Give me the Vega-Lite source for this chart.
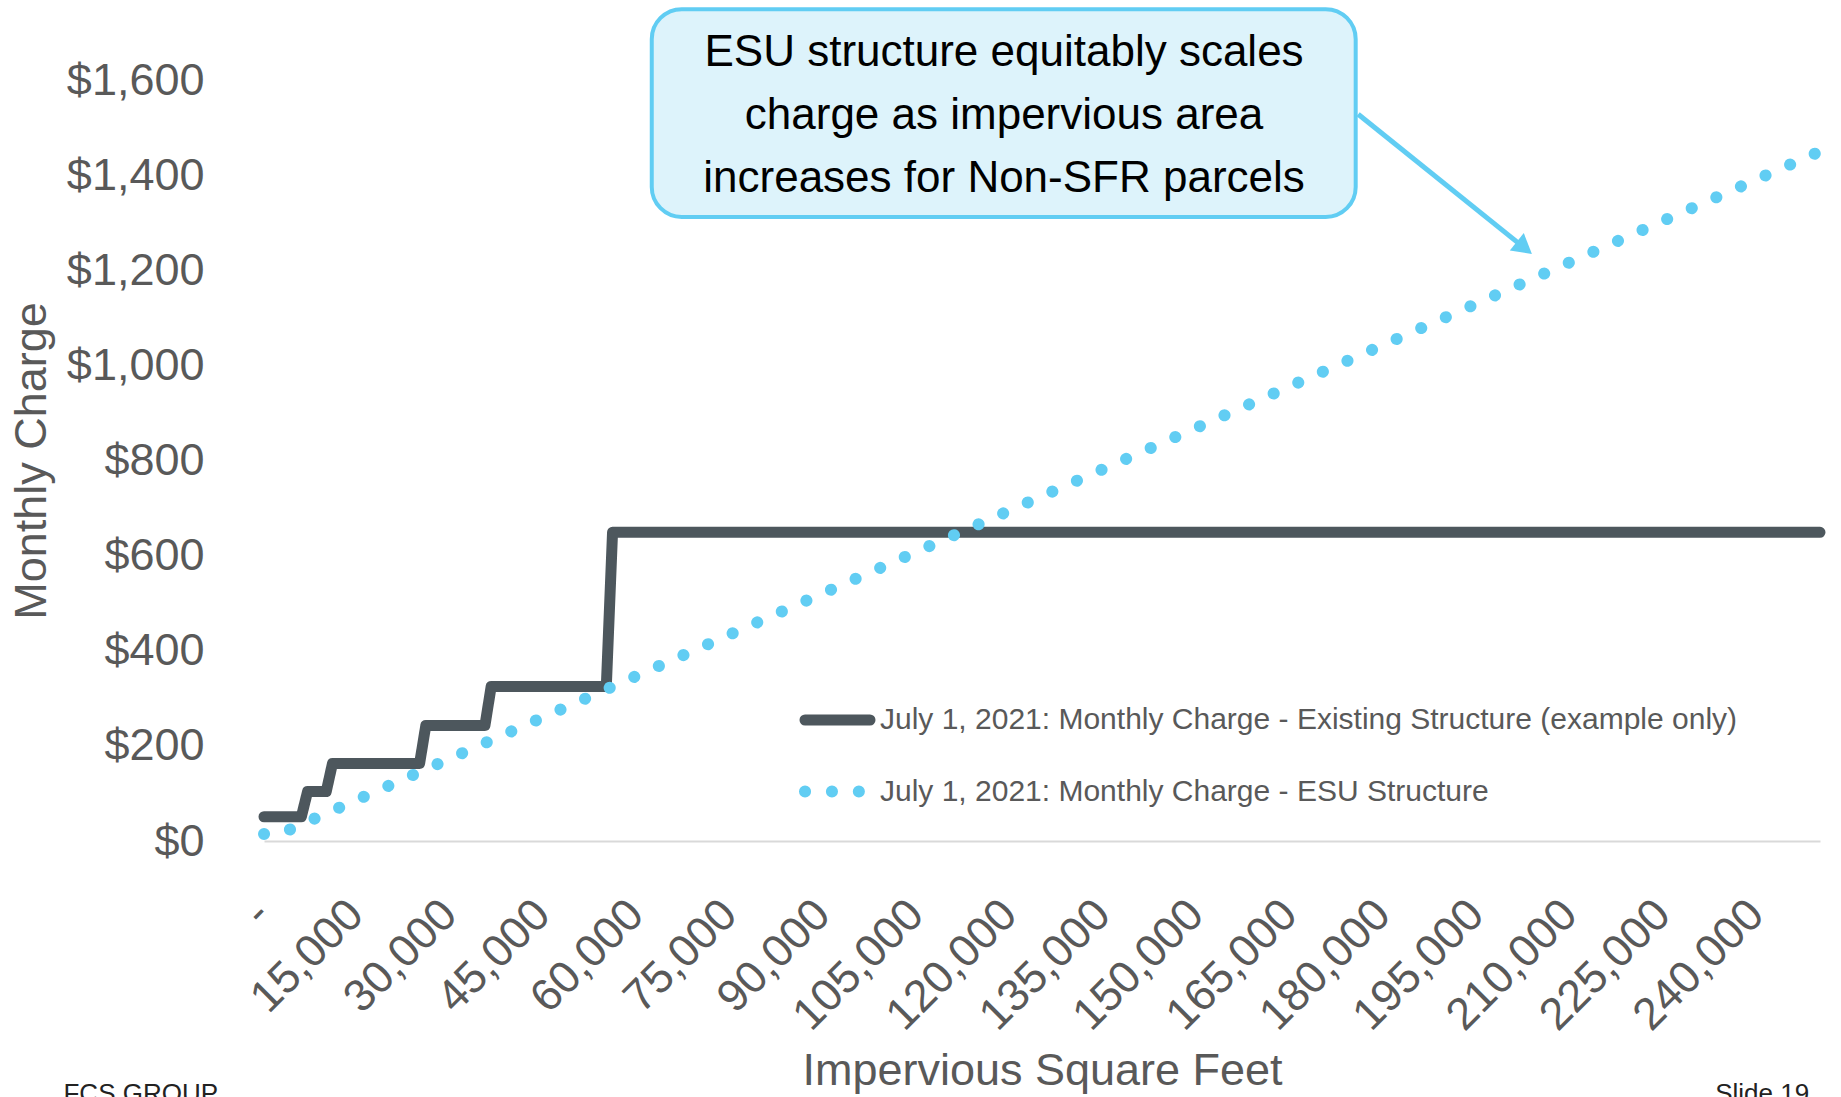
{
  "$schema": "https://vega.github.io/schema/vega-lite/v6.json",
  "width": 1556,
  "height": 761,
  "autosize": "none",
  "padding": {"left": 264, "top": 80, "right": 21, "bottom": 256},
  "background": "white",
  "config": {
    "font": "Liberation Sans, Arial, sans-serif",
    "view": {"stroke": null},
    "axis": {"grid": false, "labelColor": "#595959", "titleColor": "#595959", "titleFontWeight": "normal"},
    "legend": {"labelColor": "#595959"}
  },
  "layer": [
    {
      "data": {"values": [{"x1": 62300, "x2": 175400, "y1": 1312, "y2": 1749}]},
      "mark": {"type": "rect", "cornerRadius": 30, "fill": "#DDF3FB", "stroke": "#61CDF3", "strokeWidth": 4},
      "encoding": {
        "x": {"field": "x1", "type": "quantitative"},
        "x2": {"field": "x2"},
        "y": {"field": "y1", "type": "quantitative"},
        "y2": {"field": "y2"}
      }
    },
    {
      "data": {"values": [{"x": 118900, "y": 1657, "label": "ESU structure equitably scales\ncharge as impervious area\nincreases for Non-SFR parcels"}]},
      "mark": {"type": "text", "fontSize": 44, "lineHeight": 63, "lineBreak": "\n", "align": "center", "baseline": "middle", "color": "#000000"},
      "encoding": {
        "x": {"field": "x", "type": "quantitative"},
        "y": {"field": "y", "type": "quantitative"},
        "text": {"field": "label"}
      }
    },
    {
      "data": {"values": [{"x1": 175800, "y1": 1528, "x2": 202500, "y2": 1247}]},
      "mark": {"type": "rule", "color": "#61CDF3", "strokeWidth": 5},
      "encoding": {
        "x": {"field": "x1", "type": "quantitative"},
        "y": {"field": "y1", "type": "quantitative"},
        "x2": {"field": "x2"},
        "y2": {"field": "y2"}
      }
    },
    {
      "data": {"values": [{"x": 202500, "y": 1247}]},
      "mark": {"type": "point", "shape": "triangle-right", "angle": 38.7, "size": 500, "filled": true, "color": "#61CDF3", "opacity": 1},
      "encoding": {
        "x": {"field": "x", "type": "quantitative"},
        "y": {"field": "y", "type": "quantitative"}
      }
    },
    {
      "data": {"values": [
        {"sqft": 0, "charge": 51, "series": "July 1, 2021: Monthly Charge - Existing Structure (example only)"},
        {"sqft": 6000, "charge": 51, "series": "July 1, 2021: Monthly Charge - Existing Structure (example only)"},
        {"sqft": 7000, "charge": 104, "series": "July 1, 2021: Monthly Charge - Existing Structure (example only)"},
        {"sqft": 10000, "charge": 104, "series": "July 1, 2021: Monthly Charge - Existing Structure (example only)"},
        {"sqft": 11000, "charge": 163, "series": "July 1, 2021: Monthly Charge - Existing Structure (example only)"},
        {"sqft": 25000, "charge": 163, "series": "July 1, 2021: Monthly Charge - Existing Structure (example only)"},
        {"sqft": 26000, "charge": 243, "series": "July 1, 2021: Monthly Charge - Existing Structure (example only)"},
        {"sqft": 35500, "charge": 243, "series": "July 1, 2021: Monthly Charge - Existing Structure (example only)"},
        {"sqft": 36500, "charge": 325, "series": "July 1, 2021: Monthly Charge - Existing Structure (example only)"},
        {"sqft": 55000, "charge": 325, "series": "July 1, 2021: Monthly Charge - Existing Structure (example only)"},
        {"sqft": 56000, "charge": 649, "series": "July 1, 2021: Monthly Charge - Existing Structure (example only)"},
        {"sqft": 250000, "charge": 649, "series": "July 1, 2021: Monthly Charge - Existing Structure (example only)"}
      ]},
      "mark": {"type": "line", "strokeCap": "round", "strokeJoin": "round"},
      "encoding": {
        "x": {
          "field": "sqft", "type": "quantitative",
          "scale": {"domain": [0, 250000], "nice": false, "zero": false},
          "axis": {
            "values": [0, 15000, 30000, 45000, 60000, 75000, 90000, 105000, 120000, 135000, 150000, 165000, 180000, 195000, 210000, 225000, 240000],
            "labelExpr": "datum.value == 0 ? '-' : format(datum.value, ',')",
            "labelAngle": -45, "labelAlign": "right", "labelBaseline": "middle",
            "labelFontSize": 45, "labelPadding": 66, "labelOffset": -2, "labelOverlap": false, "labelBound": false, "labelFlush": false, "labelLimit": 0,
            "ticks": false, "tickSize": 0,
            "domain": true, "domainColor": "#D9D9D9", "domainWidth": 2,
            "title": "Impervious Square Feet", "titleFontSize": 45, "titlePadding": 10
          }
        },
        "y": {
          "field": "charge", "type": "quantitative",
          "scale": {"domain": [0, 1600], "nice": false},
          "axis": {
            "values": [0, 200, 400, 600, 800, 1000, 1200, 1400, 1600],
            "format": "$,.0f",
            "labelFontSize": 45, "labelPadding": 60,
            "ticks": false, "tickSize": 0, "domain": false,
            "title": "Monthly Charge", "titleFontSize": 45, "titlePadding": 12
          }
        },
        "color": {
          "field": "series", "type": "nominal",
          "scale": {
            "domain": ["July 1, 2021: Monthly Charge - Existing Structure (example only)", "July 1, 2021: Monthly Charge - ESU Structure"],
            "range": ["#4D575D", "#61CDF3"]
          },
          "legend": {
            "title": null, "orient": "none", "legendX": 535, "legendY": 602,
            "labelFontSize": 30, "labelLimit": 0, "labelOffset": 4,
            "symbolType": "stroke", "symbolSize": 4225, "rowPadding": 11, "padding": 0,
            "encode": {"symbols": {"update": {"strokeCap": {"value": "round"}}}}
          }
        },
        "strokeDash": {
          "field": "series", "type": "nominal",
          "scale": {
            "domain": ["July 1, 2021: Monthly Charge - Existing Structure (example only)", "July 1, 2021: Monthly Charge - ESU Structure"],
            "range": [[1, 0], [0.1, 26.8]]
          }
        },
        "strokeWidth": {
          "field": "series", "type": "nominal",
          "scale": {
            "domain": ["July 1, 2021: Monthly Charge - Existing Structure (example only)", "July 1, 2021: Monthly Charge - ESU Structure"],
            "range": [11, 12]
          }
        }
      }
    },
    {
      "data": {"values": [
        {"sqft": 0, "charge": 14.5, "series": "July 1, 2021: Monthly Charge - ESU Structure"},
        {"sqft": 2500, "charge": 14.5, "series": "July 1, 2021: Monthly Charge - ESU Structure"},
        {"sqft": 25000, "charge": 145, "series": "July 1, 2021: Monthly Charge - ESU Structure"},
        {"sqft": 50000, "charge": 290, "series": "July 1, 2021: Monthly Charge - ESU Structure"},
        {"sqft": 75000, "charge": 435, "series": "July 1, 2021: Monthly Charge - ESU Structure"},
        {"sqft": 100000, "charge": 580, "series": "July 1, 2021: Monthly Charge - ESU Structure"},
        {"sqft": 125000, "charge": 725, "series": "July 1, 2021: Monthly Charge - ESU Structure"},
        {"sqft": 150000, "charge": 870, "series": "July 1, 2021: Monthly Charge - ESU Structure"},
        {"sqft": 175000, "charge": 1015, "series": "July 1, 2021: Monthly Charge - ESU Structure"},
        {"sqft": 200000, "charge": 1160, "series": "July 1, 2021: Monthly Charge - ESU Structure"},
        {"sqft": 225000, "charge": 1305, "series": "July 1, 2021: Monthly Charge - ESU Structure"},
        {"sqft": 250000, "charge": 1450, "series": "July 1, 2021: Monthly Charge - ESU Structure"}
      ]},
      "mark": {"type": "line", "strokeCap": "round", "strokeJoin": "round"},
      "encoding": {
        "x": {"field": "sqft", "type": "quantitative"},
        "y": {"field": "charge", "type": "quantitative"},
        "color": {"field": "series", "type": "nominal"},
        "strokeDash": {"field": "series", "type": "nominal"},
        "strokeWidth": {"field": "series", "type": "nominal"}
      }
    },
    {
      "data": {"values": [
        {"x": -19800, "y": -549, "label": "FCS GROUP"},
        {"x": 240700, "y": -549, "label": "Slide 19"}
      ]},
      "mark": {"type": "text", "fontSize": 26, "align": "center", "baseline": "alphabetic", "color": "#222222"},
      "encoding": {
        "x": {"field": "x", "type": "quantitative"},
        "y": {"field": "y", "type": "quantitative"},
        "text": {"field": "label"}
      }
    }
  ]
}
